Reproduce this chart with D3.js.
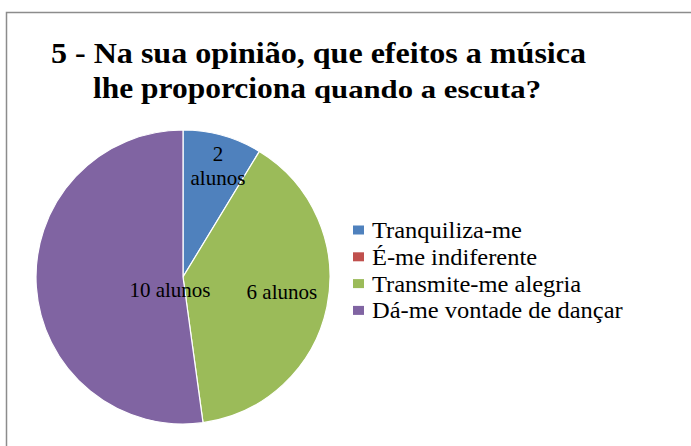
<!DOCTYPE html>
<html>
<head>
<meta charset="utf-8">
<script src="https://cdn.jsdelivr.net/npm/d3@7"></script>
<style>
  body { margin: 0; background: #fff; }
</style>
</head>
<body>
<svg id="chart" width="691" height="446" font-family="Liberation Serif"></svg>
<script>
// categories and slice values (slice sizes as drawn), label text as printed
const categories = ["Tranquiliza-me", "É-me indiferente", "Transmite-me alegria", "Dá-me vontade de dançar"];
const values = [2, 0, 9, 12];
const sliceLabels = [["2", "alunos"], [], ["6 alunos"], ["10 alunos"]];
const colors = ["#4F81BD", "#C0504D", "#9BBB59", "#8064A2"];

const FONT = "Liberation Serif";
const svg = d3.select("#chart");

// outer frame
svg.append("rect")
  .attr("x", 6.5).attr("y", 12.5)
  .attr("width", 700).attr("height", 450)
  .attr("fill", "none")
  .attr("stroke", "#8c8c8c")
  .attr("stroke-width", 1.5);

// title (source text is a slightly stretched Times, so fit the widths)
const title = svg.append("g").attr("font-weight", "bold").attr("fill", "#000").attr("font-family", FONT);
title.append("text")
  .attr("x", 51).attr("y", 63)
  .attr("font-size", 30)
  .attr("textLength", 535).attr("lengthAdjust", "spacingAndGlyphs")
  .text("5 - Na sua opinião, que efeitos a música");
title.append("text")
  .attr("x", 93).attr("y", 98)
  .attr("font-size", 30)
  .attr("textLength", 213).attr("lengthAdjust", "spacingAndGlyphs")
  .text("lhe proporciona");
title.append("text")
  .attr("x", 314).attr("y", 98)
  .attr("font-size", 25)
  .attr("textLength", 227).attr("lengthAdjust", "spacingAndGlyphs")
  .text("quando a escuta?");

// pie
const cx = 183, cy = 277, r = 147;
const data = categories.map((c, i) => ({ cat: c, value: values[i], label: sliceLabels[i], color: colors[i] }));

const pie = d3.pie().sort(null).value(d => d.value);
const arc = d3.arc().innerRadius(0).outerRadius(r);
const arcs = pie(data);

const g = svg.append("g").attr("transform", `translate(${cx},${cy})`);
g.selectAll("path")
  .data(arcs.filter(d => d.data.value > 0))
  .join("path")
  .attr("d", arc)
  .attr("fill", d => d.data.color)
  .attr("stroke", "#fff")
  .attr("stroke-width", 1.2);

// data labels: radial fraction along the mid-angle, plus a small nudge
const labelPos = [
  { rr: 0.78, nx: 4, ny: 0 },
  null,
  { rr: 0.68, nx: 1, ny: -4 },
  { rr: 0.0, nx: -13, ny: 14 }
];
arcs.forEach((d, i) => {
  const p = labelPos[i];
  if (!p || d.data.value === 0) return;
  const a = (d.startAngle + d.endAngle) / 2;
  const x = Math.sin(a) * r * p.rr + p.nx;
  const y = -Math.cos(a) * r * p.rr + p.ny;
  const lines = d.data.label;
  const t = g.append("text")
    .attr("text-anchor", "middle")
    .attr("font-family", FONT)
    .attr("font-size", 21)
    .attr("fill", "#000");
  lines.forEach((ln, k) => {
    t.append("tspan")
      .attr("x", x)
      .attr("y", y + 6 + (k - (lines.length - 1) / 2) * 24)
      .text(ln);
  });
});

// legend
const legend = svg.append("g").attr("transform", "translate(353,230)");
const rowH = 26.8;
const item = legend.selectAll("g")
  .data(data)
  .join("g")
  .attr("transform", (d, i) => `translate(0,${i * rowH})`);
item.append("rect")
  .attr("x", 0).attr("y", -4.5)
  .attr("width", 11).attr("height", 9)
  .attr("fill", d => d.color);
item.append("text")
  .attr("transform", "translate(19,8) scale(1.02,1)")
  .attr("font-family", FONT)
  .attr("font-size", 24)
  .attr("fill", "#000")
  .text(d => d.cat);
</script>
</body>
</html>
